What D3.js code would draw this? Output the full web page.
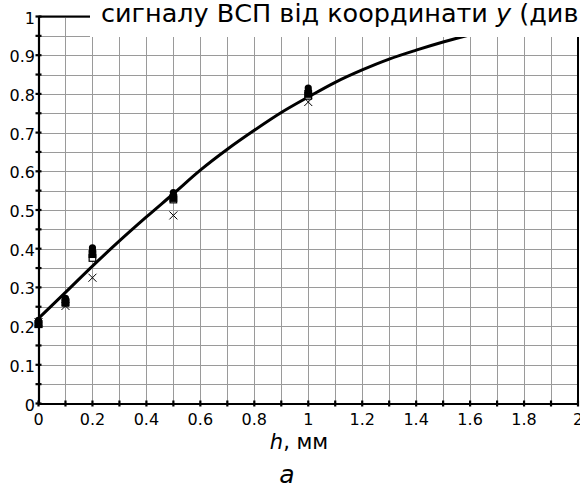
<!DOCTYPE html>
<html>
<head>
<meta charset="utf-8">
<script src="https://cdn.jsdelivr.net/npm/d3@7"></script>
<style>
  html, body { margin: 0; padding: 0; background: #fff; }
  svg { display: block; }
  svg text { font-family: 'DejaVu Sans', 'Liberation Sans', sans-serif; }
</style>
</head>
<body>
<svg id="chart" width="580" height="489"></svg>
<script>
// Fitted curve: normalised signal vs. h
const curveH = [0, 0.1, 0.2, 0.3, 0.4, 0.5, 0.6, 0.7, 0.8, 0.9, 1.0, 1.1, 1.2, 1.3, 1.4, 1.5, 1.6, 1.7];
const curveV = [0.22, 0.287, 0.355, 0.42, 0.482, 0.542, 0.603, 0.657, 0.706, 0.752, 0.792, 0.83, 0.862, 0.89, 0.913, 0.934, 0.953, 0.97];

// Measured points
const pointH = [0, 0.1, 0.2, 0.5, 1.0];
const seriesCircleA = [0.215, 0.272, 0.402, 0.545, 0.815];
const seriesCircleB = [0.21, 0.266, 0.394, 0.538, 0.808];
const seriesSquareFilled = [0.205, 0.26, 0.386, 0.531, 0.8];
const seriesSquareOpen = [0.205, 0.262, 0.376, 0.527, 0.795];
const seriesCross = [0.21, 0.252, 0.325, 0.486, 0.779];

// Axis ticks
const xTicks = [0, 0.2, 0.4, 0.6, 0.8, 1, 1.2, 1.4, 1.6, 1.8, 2];
const yTicks = [0, 0.1, 0.2, 0.3, 0.4, 0.5, 0.6, 0.7, 0.8, 0.9, 1];
const xLabels = ["0", "0.2", "0.4", "0.6", "0.8", "1", "1.2", "1.4", "1.6", "1.8", "2"];
const yLabels = ["0", "0.1", "0.2", "0.3", "0.4", "0.5", "0.6", "0.7", "0.8", "0.9", "1"];

const titleText = "сигналу ВСП від координати ";
const titleItalic = "y";
const titleTail = " (див. рис.";

const svg = d3.select("#chart");
const x = d3.scaleLinear().domain([0, 2]).range([38.5, 578]);
const y = d3.scaleLinear().domain([0, 1]).range([403.5, 16.5]);

// grid
const gx = d3.range(0, 2.0001, 0.1);
const gy = d3.range(0, 1.0001, 0.05);
const grid = svg.append("g").attr("stroke", "#9a9a9a").attr("stroke-width", 1);
grid.selectAll("line.v").data(gx).join("line")
  .attr("x1", d => Math.round(x(d)) + 0.5).attr("x2", d => Math.round(x(d)) + 0.5)
  .attr("y1", y(1)).attr("y2", y(0));
grid.selectAll("line.h").data(gy).join("line")
  .attr("y1", d => Math.round(y(d)) + 0.5).attr("y2", d => Math.round(y(d)) + 0.5)
  .attr("x1", x(0)).attr("x2", x(2));

// frame top / right
svg.append("line").attr("x1", x(0)).attr("x2", x(2)).attr("y1", y(1)).attr("y2", y(1))
  .attr("stroke", "#000").attr("stroke-width", 2);
svg.append("line").attr("x1", x(2)).attr("x2", x(2)).attr("y1", y(1)).attr("y2", y(0))
  .attr("stroke", "#000").attr("stroke-width", 2);

// curve
const line = d3.line().x((d, i) => x(curveH[i])).y(d => y(d)).curve(d3.curveMonotoneX);
svg.append("path").datum(curveV).attr("d", line)
  .attr("fill", "none").attr("stroke", "#000").attr("stroke-width", 3);

// markers
const pts = svg.append("g");
function circles(vals) {
  pts.append("g").selectAll("circle").data(vals).join("circle")
    .attr("cx", (d, i) => x(pointH[i])).attr("cy", d => y(d)).attr("r", 3.6).attr("fill", "#000");
}
function squares(vals, filled) {
  pts.append("g").selectAll("rect").data(vals).join("rect")
    .attr("x", (d, i) => x(pointH[i]) - 3.3).attr("y", d => y(d) - 3.3)
    .attr("width", 6.6).attr("height", 6.6)
    .attr("fill", filled ? "#000" : "#fff").attr("stroke", "#000").attr("stroke-width", 1.2);
}
squares(seriesSquareOpen, false);
squares(seriesSquareFilled, true);
circles(seriesCircleB);
circles(seriesCircleA);
pts.append("g").selectAll("path").data(seriesCross).join("path")
  .attr("d", (d, i) => {
    const cx = x(pointH[i]), cy = y(d), s = 4;
    return `M${cx - s},${cy - s}L${cx + s},${cy + s}M${cx - s},${cy + s}L${cx + s},${cy - s}`;
  })
  .attr("stroke", "#000").attr("stroke-width", 1).attr("fill", "none");

// axes
const xAxis = d3.axisBottom(x).tickValues(d3.range(0, 2.0001, 0.1)).tickSize(0).tickFormat("");
const yAxis = d3.axisLeft(y).tickValues(d3.range(0, 1.0001, 0.05)).tickSize(0).tickFormat("");
const gxa = svg.append("g").attr("transform", `translate(0,${y(0)})`).call(xAxis);
const gya = svg.append("g").attr("transform", `translate(${x(0)},0)`).call(yAxis);
[gxa, gya].forEach(g => g.select(".domain").attr("stroke", "#000").attr("stroke-width", 2.2));

// tick marks crossing the axes
svg.append("g").selectAll("line").data(d3.range(0, 2.0001, 0.1)).join("line")
  .attr("x1", d => x(d)).attr("x2", d => x(d))
  .attr("y1", y(0) - 3).attr("y2", y(0) + 3)
  .attr("stroke", "#000").attr("stroke-width", 2.2);
svg.append("g").selectAll("line").data(d3.range(0, 1.0001, 0.05)).join("line")
  .attr("y1", d => y(d)).attr("y2", d => y(d))
  .attr("x1", x(0) - 3).attr("x2", x(0) + 3)
  .attr("stroke", "#000").attr("stroke-width", 2.2);

// tick labels
svg.append("g").selectAll("text").data(xTicks).join("text")
  .attr("x", d => x(d)).attr("y", 424.5).attr("text-anchor", "middle")
  .attr("font-size", 16).text((d, i) => xLabels[i]);
svg.append("g").selectAll("text").data(yTicks).join("text")
  .attr("x", 35).attr("y", d => y(d) + 7).attr("text-anchor", "end")
  .attr("font-size", 16).text((d, i) => yLabels[i]);

// title strip over the top of the plot
svg.append("rect").attr("x", 90).attr("y", 0).attr("width", 490).attr("height", 37).attr("fill", "#fff");
const t = svg.append("text").attr("x", 101).attr("y", 21.5).attr("font-size", 25.5);
t.append("tspan").text(titleText);
t.append("tspan").attr("font-style", "italic").text(titleItalic);
t.append("tspan").text(titleTail);

// axis title
const xl = svg.append("text").attr("x", 299).attr("y", 448.5)
  .attr("text-anchor", "middle").attr("font-size", 21);
xl.append("tspan").attr("font-style", "italic").text("h");
xl.append("tspan").text(", мм");

svg.append("text").attr("x", 287).attr("y", 483)
  .attr("text-anchor", "middle").attr("font-size", 25).attr("font-style", "italic").text("а");
</script>
</body>
</html>
